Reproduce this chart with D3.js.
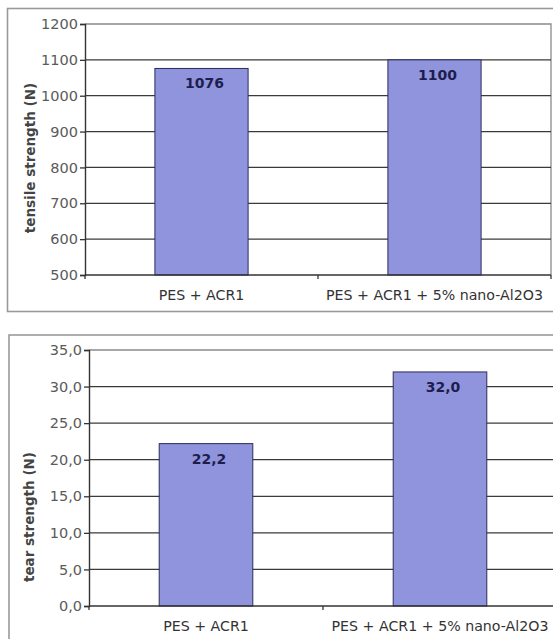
<!DOCTYPE html>
<html>
<head>
<meta charset="utf-8">
<script src="https://cdn.jsdelivr.net/npm/d3@7"></script>
<style>
  html, body { margin: 0; padding: 0; background: #fff; }
  svg { display: block; }
  text { font-family: "DejaVu Sans", Verdana, sans-serif; }
</style>
</head>
<body>
<svg id="chart" width="553" height="639"></svg>
<script>
// Samples compared in both panels
const categories = ["PES + ACR1", "PES + ACR1 + 5% nano-Al2O3"];

// Tensile strength (N)
const tensileValues = [1076, 1100];
const tensileTicks = [500, 600, 700, 800, 900, 1000, 1100, 1200];
const tensileLabels = ["1076", "1100"];

// Tear strength (N)
const tearValues = [22.2, 32.0];
const tearTicks = [0, 5, 10, 15, 20, 25, 30, 35];
const tearLabels = ["22,2", "32,0"];

const svg = d3.select("#chart");

function panel(cfg) {
  const g = svg.append("g");

  // outer frame of the panel
  g.append("rect")
    .attr("x", cfg.frame[0]).attr("y", cfg.frame[1])
    .attr("width", cfg.frame[2]).attr("height", cfg.frame[3])
    .attr("fill", "#fff").attr("stroke", "#9a9a9a").attr("stroke-width", 1.6);

  const x = d3.scaleBand()
    .domain(categories)
    .range([cfg.left, cfg.right])
    .paddingInner(0.6).paddingOuter(0.3);

  const y = d3.scaleLinear()
    .domain(cfg.domain)
    .range([cfg.bottom, cfg.top]);

  // plot area border (right and top)
  g.append("path")
    .attr("d", `M${cfg.left},${cfg.top}H${cfg.right}V${cfg.bottom}`)
    .attr("fill", "none").attr("stroke", "#8a8a8a").attr("stroke-width", 1.3);

  // horizontal gridlines
  g.selectAll("line.grid")
    .data(cfg.ticks.filter(t => t !== cfg.domain[0] && t !== cfg.domain[1]))
    .join("line")
    .attr("class", "grid")
    .attr("x1", cfg.left).attr("x2", cfg.right)
    .attr("y1", d => y(d)).attr("y2", d => y(d))
    .attr("stroke", "#3a3a3a").attr("stroke-width", 1.3);

  // bars
  g.selectAll("rect.bar")
    .data(cfg.values)
    .join("rect")
    .attr("class", "bar")
    .attr("x", (d, i) => x(categories[i]))
    .attr("width", x.bandwidth())
    .attr("y", d => y(d))
    .attr("height", d => y(cfg.domain[0]) - y(d))
    .attr("fill", "#8f94dc")
    .attr("stroke", "#2c2c5c").attr("stroke-width", 1);

  // value labels inside the bars
  g.selectAll("text.val")
    .data(cfg.values)
    .join("text")
    .attr("class", "val")
    .attr("x", (d, i) => x(categories[i]) + x.bandwidth() / 2 + 3)
    .attr("y", d => y(d) + 20)
    .attr("text-anchor", "middle")
    .attr("font-size", 14).attr("font-weight", "bold")
    .attr("fill", "#1e1e4e")
    .text((d, i) => cfg.labels[i]);

  // y axis
  const yAxis = d3.axisLeft(y)
    .tickValues(cfg.ticks)
    .tickSize(5)
    .tickPadding(2)
    .tickFormat(cfg.format);
  const ya = g.append("g")
    .attr("transform", `translate(${cfg.left},0)`)
    .call(yAxis);
  ya.select(".domain").attr("stroke", "#333").attr("stroke-width", 1.4);
  ya.selectAll(".tick line").attr("stroke", "#333").attr("stroke-width", 1.3);
  ya.selectAll(".tick text")
    .attr("font-size", 14.5).attr("fill", "#5a5a5a")
    .attr("font-family", "DejaVu Sans, Verdana, sans-serif");

  // x axis baseline with ticks between categories
  g.append("line")
    .attr("x1", cfg.left).attr("x2", cfg.right)
    .attr("y1", cfg.bottom).attr("y2", cfg.bottom)
    .attr("stroke", "#333").attr("stroke-width", 1.4);
  const bounds = [cfg.left, (x(categories[0]) + x.bandwidth() + x(categories[1])) / 2, cfg.right];
  g.selectAll("line.xtick")
    .data(bounds)
    .join("line")
    .attr("class", "xtick")
    .attr("x1", d => d).attr("x2", d => d)
    .attr("y1", cfg.bottom).attr("y2", cfg.bottom + 4)
    .attr("stroke", "#333").attr("stroke-width", 1.3);

  // category labels
  g.selectAll("text.cat")
    .data(categories)
    .join("text")
    .attr("class", "cat")
    .attr("x", d => x(d) + x.bandwidth() / 2)
    .attr("y", cfg.bottom + 25)
    .attr("text-anchor", "middle")
    .attr("font-size", 14.2).attr("fill", "#333")
    .text(d => d);

  // y axis title
  g.append("text")
    .attr("transform", `translate(${cfg.titleX},${cfg.titleY}) rotate(-90)`)
    .attr("text-anchor", "middle")
    .attr("font-size", 13.5).attr("font-weight", "bold")
    .attr("fill", "#444")
    .text(cfg.title);
}

panel({
  frame: [7.5, 8.5, 560, 303],
  left: 85, right: 551, top: 24, bottom: 275,
  domain: [500, 1200],
  ticks: tensileTicks,
  values: tensileValues,
  labels: tensileLabels,
  format: d3.format("d"),
  title: "tensile strength (N)",
  titleX: 35, titleY: 158
});

panel({
  frame: [9, 335, 560, 320],
  left: 89, right: 557, top: 350, bottom: 606,
  domain: [0, 35],
  ticks: tearTicks,
  values: tearValues,
  labels: tearLabels,
  format: d => d.toFixed(1).replace(".", ","),
  title: "tear strength (N)",
  titleX: 34, titleY: 517
});
</script>
</body>
</html>
